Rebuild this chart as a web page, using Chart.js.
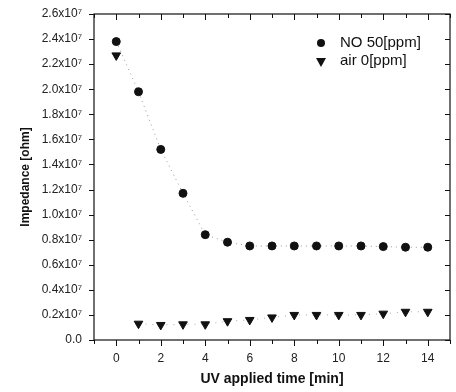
<!DOCTYPE html>
<html>
<head>
<meta charset="utf-8">
<script src="https://cdn.jsdelivr.net/npm/chart.js@4"></script>
<style>
  html, body { margin: 0; padding: 0; background: #fff; }
  #wrap { width: 456px; height: 392px; position: relative; }
</style>
</head>
<body>
<div id="wrap"><canvas id="chart1"></canvas></div>
<script>
// values in units of 10^7 ohm
const times = [0, 1, 2, 3, 4, 5, 6, 7, 8, 9, 10, 11, 12, 13, 14]
const no50 = [2.38, 1.98, 1.52, 1.17, 0.84, 0.78, 0.75, 0.75, 0.75, 0.75, 0.75, 0.75, 0.745, 0.74, 0.74]
const air0 = [2.27, 0.13, 0.12, 0.125, 0.125, 0.15, 0.16, 0.18, 0.2, 0.2, 0.2, 0.2, 0.21, 0.225, 0.225]
const seriesNames = ['NO 50[ppm]', 'air 0[ppm]']

const ink = '#111'
const font = 'Liberation Sans, Arial, sans-serif'

// box, ticks on all four sides, and the legend in the top right corner
const frameTicks = {
  id: 'frameTicks',
  afterDraw(chart) {
    const { ctx, chartArea: a, scales: { x, y } } = chart
    ctx.save()
    ctx.strokeStyle = ink
    ctx.lineWidth = 1.2
    ctx.strokeRect(a.left, a.top, a.right - a.left, a.bottom - a.top)
    ctx.lineWidth = 1
    ctx.beginPath()
    y.ticks.forEach(t => {
      const py = Math.round(y.getPixelForValue(t.value)) + 0.5
      const major = Math.round(t.value * 10) % 2 === 0
      const len = major ? 5 : 3
      ctx.moveTo(a.left - len, py); ctx.lineTo(a.left, py)
      ctx.moveTo(a.right - len, py); ctx.lineTo(a.right, py)
    })
    x.ticks.forEach(t => {
      const px = Math.round(x.getPixelForValue(t.value)) + 0.5
      const major = t.value % 2 === 0
      const len = major ? 6 : 4
      ctx.moveTo(px, a.bottom); ctx.lineTo(px, a.bottom + len)
      ctx.moveTo(px, a.top); ctx.lineTo(px, a.top + len)
    })
    ctx.stroke()

    // legend
    const lx = a.right - 129, ly = a.top + 29
    ctx.fillStyle = ink
    ctx.beginPath()
    ctx.arc(lx, ly, 4, 0, Math.PI * 2)
    ctx.fill()
    ctx.beginPath()
    ctx.moveTo(lx - 5, ly + 15); ctx.lineTo(lx + 5, ly + 15); ctx.lineTo(lx, ly + 24)
    ctx.closePath()
    ctx.fill()
    ctx.font = '15px ' + font
    ctx.textBaseline = 'middle'
    ctx.fillText(seriesNames[0], lx + 19, ly)
    ctx.fillText(seriesNames[1], lx + 19, ly + 18)
    ctx.restore()
  }
}

const data = {
  datasets: [{
    label: seriesNames[0],
    data: times.map((t, i) => ({ x: t, y: no50[i] })),
    pointStyle: 'circle',
    pointRadius: 4,
    backgroundColor: ink,
    pointBorderColor: ink,
    borderColor: '#999',
    borderWidth: 1,
    borderDash: [1, 4],
    showLine: true
  }, {
    label: seriesNames[1],
    data: times.map((t, i) => ({ x: t, y: air0[i] })),
    pointStyle: 'triangle',
    rotation: 180,
    pointRadius: 5,
    backgroundColor: ink,
    pointBorderColor: ink,
    borderColor: '#aaa',
    borderWidth: 1,
    borderDash: [1, 6],
    showLine: true,
    segment: {
      borderColor: c => c.p0DataIndex === 0 ? 'rgba(0,0,0,0)' : '#aaa'
    }
  }]
}

const options = {
  responsive: true,
  maintainAspectRatio: false,
  animation: false,
  layout: { padding: { top: 14, right: 0, left: 14, bottom: 0 } },
  plugins: {
    legend: { display: false },
    tooltip: { enabled: false }
  },
  scales: {
    x: {
      type: 'linear',
      min: -1,
      max: 15,
      grid: { display: false },
      border: { display: false },
      afterFit: s => { s.height = 52 },
      ticks: {
        stepSize: 1,
        color: '#222',
        padding: 3,
        maxRotation: 0,
        font: { family: font, size: 12 },
        callback: v => (v % 2 === 0 && v >= 0 && v <= 14) ? String(v) : ''
      },
      title: {
        display: true,
        text: 'UV applied time [min]',
        color: ink,
        padding: { top: 2, bottom: 4 },
        font: { family: font, size: 14, weight: 'bold' }
      }
    },
    y: {
      min: 0,
      max: 2.6,
      grid: { display: false },
      border: { display: false },
      afterFit: s => { s.width = 80 },
      ticks: {
        stepSize: 0.1,
        color: '#222',
        padding: 4,
        font: { family: font, size: 12 },
        callback: v => {
          const k = Math.round(v * 10)
          if (k % 2 !== 0) return ''
          return k === 0 ? '0.0' : (k / 10).toFixed(1) + 'x10\u2077'
        }
      },
      title: {
        display: true,
        text: 'Impedance [ohm]',
        color: ink,
        padding: { bottom: 0 },
        font: { family: font, size: 12, weight: 'bold' }
      }
    }
  }
}

new Chart('chart1', {
  type: 'scatter',
  data,
  options,
  plugins: [frameTicks]
})
</script>
</body>
</html>
